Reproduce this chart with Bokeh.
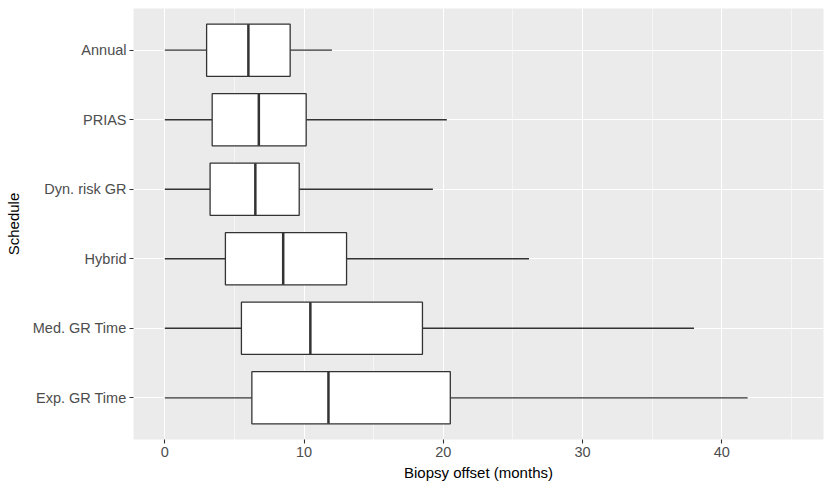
from bokeh.plotting import figure
from bokeh.models import ColumnDataSource, FactorRange, FixedTicker, Range1d
from bokeh.transform import dodge
from bokeh.embed import file_html
from bokeh.resources import INLINE

# ---- data ----
schedules = ["Annual", "PRIAS", "Dyn. risk GR", "Hybrid", "Med. GR Time", "Exp. GR Time"]
lower = [0.0, 0.0, 0.0, 0.0, 0.0, 0.0]
q1 = [3.0, 3.4, 3.25, 4.35, 5.5, 6.25]
median = [6.0, 6.75, 6.5, 8.5, 10.45, 11.75]
q3 = [9.0, 10.15, 9.65, 13.05, 18.5, 20.5]
upper = [12.0, 20.25, 19.25, 26.15, 38.0, 41.85]
x_ticks = [0, 10, 20, 30, 40]
x_minor_ticks = [5, 15, 25, 35, 45]
x_label = "Biopsy offset (months)"
y_label = "Schedule"

src = ColumnDataSource(dict(cat=schedules, lo=lower, q1=q1, med=median, q3=q3, hi=upper))

FONT = "Liberation Sans"
BOX_W = 0.75
LINE = "#333333"

p = figure(width=830, height=487, output_backend="svg", toolbar_location=None,
           x_range=Range1d(-2.25, 47.3),
           y_range=FactorRange(factors=schedules[::-1], range_padding=0.2 / 6),
           min_border_left=133, min_border_right=7, min_border_top=8, min_border_bottom=48)

p.background_fill_color = "#EBEBEB"
p.border_fill_color = "white"
p.outline_line_color = None

# grid
p.xaxis.ticker = FixedTicker(ticks=x_ticks, minor_ticks=x_minor_ticks)
p.xgrid.grid_line_color = "white"
p.xgrid.grid_line_width = 1.1
p.xgrid.minor_grid_line_color = "white"
p.xgrid.minor_grid_line_width = 0.55
p.ygrid.grid_line_color = "white"
p.ygrid.grid_line_width = 1.1

# axes
for ax in (p.xaxis, p.yaxis):
    ax.axis_line_color = None
    ax.major_tick_line_color = LINE
    ax.major_tick_line_width = 1.1
    ax.major_tick_out = 4
    ax.major_tick_in = 0
    ax.minor_tick_line_color = None
    ax.major_label_text_font = FONT
    ax.major_label_text_font_size = "14.5px"
    ax.major_label_text_color = "#4D4D4D"
    ax.axis_label_text_font = FONT
    ax.axis_label_text_font_size = "15px"
    ax.axis_label_text_font_style = "normal"
    ax.axis_label_text_color = "black"

p.xaxis.axis_label = x_label
p.yaxis.axis_label = y_label
p.xaxis.major_label_standoff = 3
p.xaxis.axis_label_standoff = 4
p.yaxis.major_label_standoff = 3
p.yaxis.axis_label_standoff = 8

# whiskers
p.segment(x0="lo", y0="cat", x1="q1", y1="cat", source=src, line_color=LINE, line_width=1.3)
p.segment(x0="q3", y0="cat", x1="hi", y1="cat", source=src, line_color=LINE, line_width=1.3)
# boxes
p.hbar(y="cat", left="q1", right="q3", height=BOX_W, source=src,
       fill_color="white", line_color=LINE, line_width=1.3)
# medians
p.segment(x0="med", y0=dodge("cat", -BOX_W / 2, range=p.y_range),
          x1="med", y1=dodge("cat", BOX_W / 2, range=p.y_range),
          source=src, line_color=LINE, line_width=2.5)

open("out.html", "w").write(file_html(p, INLINE))
